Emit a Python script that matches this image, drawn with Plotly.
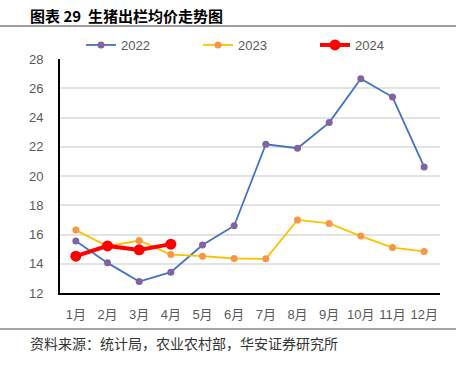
import plotly.graph_objects as go

months = ["1月", "2月", "3月", "4月", "5月", "6月", "7月", "8月", "9月", "10月", "11月", "12月"]
y2022 = [15.55, 14.06, 12.78, 13.42, 15.28, 16.6, 22.17, 21.9, 23.65, 26.65, 25.4, 20.62]
y2023 = [16.3, 15.2, 15.59, 14.63, 14.52, 14.36, 14.34, 17.0, 16.76, 15.89, 15.11, 14.84]
y2024 = [14.52, 15.22, 14.95, 15.34]
y_ticks = [12, 14, 16, 18, 20, 22, 24, 26, 28]

OFF = 0  # body margin removed via post_script
W, H = 460 - OFF, 375 - OFF
# plot area in page pixels: x 60..440, y 59..293
L, R, T, B = 60 - OFF, 460 - 440, 59 - OFF, 375 - 293
pw, ph = W - L - R, H - T - B

def px(x):  # page pixel -> paper
    return (x - OFF - L) / pw

def py(y):
    return (H - B - (y - OFF)) / ph

FONT = "Liberation Sans, Noto Sans CJK SC, sans-serif"

fig = go.Figure()
fig.add_trace(go.Scatter(x=months, y=y2022, name="2022", mode="lines+markers",
                         line=dict(color="#4472C4", width=1.8),
                         marker=dict(color="#8064A2", size=7), legend="legend"))
fig.add_trace(go.Scatter(x=months[:len(y2023)], y=y2023, name="2023", mode="lines+markers",
                         line=dict(color="#FFC000", width=1.8),
                         marker=dict(color="#F79646", size=7), legend="legend2"))
fig.add_trace(go.Scatter(x=months[:len(y2024)], y=y2024, name="2024", mode="lines+markers",
                         line=dict(color="#FF0000", width=4),
                         marker=dict(color="#FF0000", size=11), legend="legend3"))

def leg(xpix):
    return dict(orientation="h", x=px(xpix), y=py(45), xanchor="left", yanchor="middle",
                font=dict(size=13, color="#595959"), bgcolor="rgba(0,0,0,0)",
                itemwidth=30, borderwidth=0)

fig.update_layout(
    width=W, height=H,
    margin=dict(l=L, r=R, t=T, b=B, autoexpand=False),
    paper_bgcolor="white", plot_bgcolor="white",
    font=dict(family=FONT, size=13, color="#595959"),
    showlegend=True,
    legend=leg(81), legend2=leg(198), legend3=leg(315),
    xaxis=dict(type="category", categoryarray=months, range=[-0.5, 11.5],
               showgrid=False, showline=True, linecolor="#000000", linewidth=2,
               ticks="", ticklabelstandoff=8, tickfont=dict(size=13, color="#595959"),
               fixedrange=True),
    yaxis=dict(range=[12, 28], tickvals=y_ticks, showgrid=True, gridcolor="#E3E3E3", gridwidth=1.5,
               showline=True, linecolor="#000000", linewidth=2, ticks="",
               ticklabelstandoff=12, tickfont=dict(size=13, color="#595959"),
               zeroline=False, fixedrange=True),
    shapes=[
        dict(type="line", xref="paper", yref="paper", x0=px(0), x1=px(456), y0=py(26), y1=py(26),
             line=dict(color="#404040", width=1.2)),
        dict(type="line", xref="paper", yref="paper", x0=px(0), x1=px(456), y0=py(329), y1=py(329),
             line=dict(color="#A6A6A6", width=2)),
    ],
    annotations=[
        dict(text="<b>图表 29  生猪出栏均价走势图</b>", xref="paper", yref="paper",
             x=px(28), y=py(15.5), xanchor="left", yanchor="middle", showarrow=False,
             font=dict(family="Noto Sans CJK SC, sans-serif", size=15, color="#000000")),
        dict(text="资料来源：统计局，农业农村部，华安证券研究所", xref="paper", yref="paper",
             x=px(28), y=py(343), xanchor="left", yanchor="middle", showarrow=False,
             font=dict(family="Noto Sans CJK SC, sans-serif", size=14, color="#333333")),
    ],
)

fig.write_html("out.html", config={"displayModeBar": False},
               post_script="document.body.style.margin='0';")
